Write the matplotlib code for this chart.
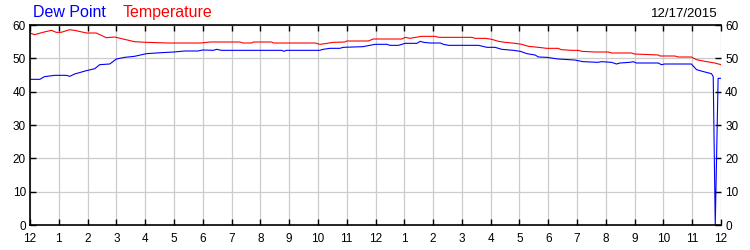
import matplotlib
matplotlib.use('Agg')
import matplotlib.pyplot as plt

# hours since midnight and readings (deg F)
temp_hours = [0.0, 0.16, 0.45, 0.74, 0.91, 1.08, 1.38, 1.6, 1.96, 2.3, 2.65, 2.94,
              3.23, 3.63, 4.04, 4.79, 5.94, 6.25, 7.29, 7.4, 7.7, 7.76, 8.39, 8.45,
              9.9, 10.07, 10.25, 10.53, 10.94, 11.0, 11.75, 11.92, 12.92, 13.03,
              13.2, 13.4, 13.6, 14.07, 14.19, 15.35, 15.46, 15.81, 16.04, 16.27,
              16.5, 16.85, 17.08, 17.31, 17.66, 17.95, 18.34, 18.45, 18.81, 19.04,
              19.16, 19.62, 20.08, 20.2, 20.89, 21.0, 21.82, 21.88, 22.4, 22.51,
              22.97, 23.15, 23.44, 23.78, 24.0]
temp_vals = [57.6, 57.1, 57.8, 58.4, 57.8, 57.8, 58.6, 58.3, 57.6, 57.6, 56.2, 56.4,
             55.8, 55.0, 54.8, 54.6, 54.6, 54.9, 54.9, 54.6, 54.6, 54.9, 54.9, 54.6,
             54.6, 54.2, 54.4, 54.8, 54.9, 55.2, 55.2, 55.8, 55.8, 56.3,
             56.0, 56.3, 56.6, 56.6, 56.3, 56.3, 56.0, 56.0, 55.7, 55.1,
             54.8, 54.5, 54.2, 53.6, 53.3, 53.0, 53.0, 52.6, 52.4, 52.4,
             52.1, 51.9, 51.9, 51.6, 51.6, 51.3, 51.0, 50.7, 50.7, 50.4,
             50.4, 49.6, 49.1, 48.6, 48.1]

dew_hours = [0.0, 0.34, 0.5, 0.86, 1.26, 1.38, 1.55, 1.96, 2.25, 2.42, 2.77, 3.0,
             3.29, 3.63, 4.04, 4.56, 5.0, 5.37, 5.83, 6.0, 6.37, 6.48, 6.65, 8.74,
             8.82, 8.9, 10.07, 10.18, 10.42, 10.76, 10.88, 11.57, 11.74, 11.99,
             12.4, 12.5, 12.8, 13.03, 13.44, 13.55, 13.67, 13.9, 14.25, 14.36,
             14.54, 15.58, 15.87, 16.15, 16.39, 16.79, 17.03, 17.26, 17.54, 17.66,
             17.95, 18.34, 18.92, 19.21, 19.73, 19.85, 20.2, 20.37, 20.49, 20.83,
             20.95, 21.06, 21.82, 21.93, 22.05, 22.97, 23.15, 23.44, 23.67, 23.73,
             23.8, 23.9, 24.0]
dew_vals = [43.7, 43.7, 44.5, 44.9, 44.9, 44.6, 45.3, 46.3, 46.9, 48.1, 48.3, 49.8,
            50.3, 50.6, 51.4, 51.7, 51.9, 52.2, 52.2, 52.5, 52.4, 52.7, 52.4, 52.4,
            52.1, 52.4, 52.4, 52.7, 53.0, 53.0, 53.3, 53.5, 53.8, 54.2,
            54.2, 53.9, 53.9, 54.5, 54.5, 55.1, 54.8, 54.6, 54.6, 54.2,
            53.9, 53.9, 53.3, 53.3, 52.7, 52.4, 52.1, 51.4, 51.0, 50.4,
            50.3, 49.8, 49.5, 49.0, 48.8, 49.0, 48.8, 48.3, 48.6, 48.8,
            49.0, 48.6, 48.6, 48.1, 48.3, 48.3, 46.6, 45.9, 45.4, 44.5,
            0.0, 44.0, 44.0]

hour_labels = ['12'] + [str(h) for h in range(1, 12)] + ['12'] + \
              [str(h) for h in range(1, 12)] + ['12']
y_ticks = [0, 10, 20, 30, 40, 50, 60]
date_label = '12/17/2015'

plt.rcParams['font.family'] = ['Liberation Sans', 'DejaVu Sans']

fig = plt.figure(figsize=(7.5, 2.5), dpi=100)
ax = fig.add_axes([30 / 750, 0.1, 691 / 750, 0.8])

ax.plot(temp_hours, temp_vals, color='#ff0000', lw=0.8)
ax.plot(dew_hours, dew_vals, color='#0000ff', lw=0.8)

ax.set_xlim(0, 24)
ax.set_ylim(0, 60)
ax.set_xticks(range(25))
ax.set_xticklabels(hour_labels)
ax.set_yticks(y_ticks)
ax.grid(True, color='#cccccc', lw=0.9)
ax.set_axisbelow(True)
ax.tick_params(direction='in', length=4, width=1, labelsize=8.5,
               top=True, right=True, labelright=True)
ax.tick_params(axis='x', pad=6)
ax.tick_params(axis='y', pad=3)
ax.spines['right'].set_visible(False)
for s in ['left', 'top', 'bottom']:
    ax.spines[s].set_linewidth(1.2)

fig.text(33 / 750, 1 - 17 / 250, 'Dew Point', color='#0000ff', fontsize=11.5,
         ha='left', va='baseline')
fig.text(123 / 750, 1 - 17 / 250, 'Temperature', color='#ff0000', fontsize=11.5,
         ha='left', va='baseline')
fig.text(718 / 750, 1 - 17 / 250, date_label, color='black', fontsize=9.5,
         ha='right', va='baseline')

fig.savefig('out.png', dpi=100)
